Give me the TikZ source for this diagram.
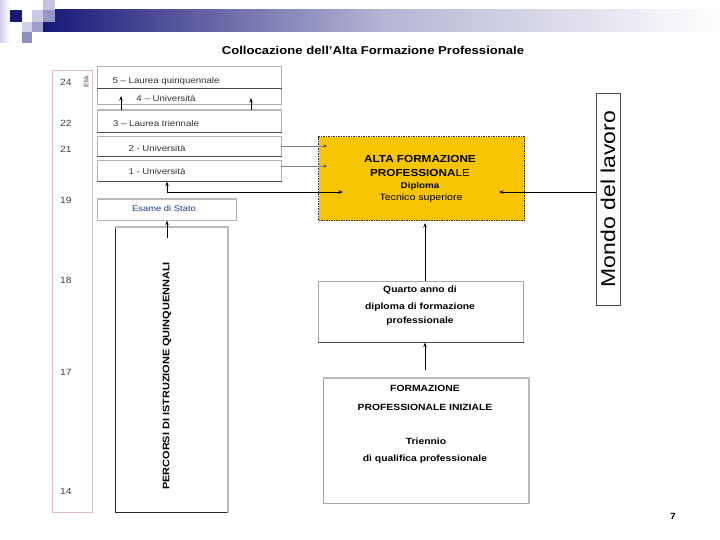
\documentclass[tikz,border=0pt]{standalone}
\usepackage{fontspec}
\setmainfont{Liberation Sans}[FakeStretch=1.15]
\usetikzlibrary{arrows.meta,calc}
\definecolor{navy}{RGB}{24,24,120}
\definecolor{midlav}{RGB}{180,180,212}
\definecolor{gold}{RGB}{246,196,0}
\definecolor{pinkb}{RGB}{232,184,204}
\definecolor{esblue}{RGB}{30,60,140}
\definecolor{sqa}{RGB}{200,200,232}
\definecolor{sqb}{RGB}{196,196,226}
\definecolor{sqc}{RGB}{150,150,200}
\definecolor{sqd}{RGB}{208,208,236}
\definecolor{sqe}{RGB}{160,160,208}
\definecolor{sqf}{RGB}{144,144,192}
\begin{document}
\begin{tikzpicture}[x=1pt,y=-1pt,
  sbox/.style={draw=gray!60, line width=0.7pt, inner sep=0pt, anchor=north west},
  shadowline/.style={draw=gray!60!black, line width=1.5pt},
  lightshadow/.style={draw=gray!55, line width=1.6pt},
  stxt/.style={font=\fontsize{8.4}{10}\selectfont, text=black!80, inner sep=0pt},
  btxt/.style={font=\fontsize{9}{10}\selectfont\bfseries, inner sep=0pt},
  age/.style={font=\fontsize{9}{10}\selectfont, text=black!75, inner sep=0pt},
  arr/.style={draw=black, line width=0.9pt, -{Stealth[length=4.5pt,width=3.5pt]}},
  garr/.style={draw=gray, line width=0.6pt, -{Stealth[length=3.5pt,width=3pt,color=black!70]}}
]
\useasboundingbox (0,0) rectangle (720,540);
\fill[white] (0,0) rectangle (720,540);

% header decoration
\shade[left color=sqd, right color=white] (0,0) rectangle (10,43);
\shade[left color=navy, right color=white, middle color=midlav] (43,10) rectangle (720,32);
\fill[navy] (10,10) rectangle (22,22);
\fill[sqa] (32,10) rectangle (43,22);
\fill[sqb] (43,0) rectangle (55,10);
\fill[sqc] (43,10) rectangle (55,22);
\fill[sqd] (22,22) rectangle (32,32);
\fill[sqe] (32,22) rectangle (43,32);
\fill[sqf] (22,32) rectangle (32,43);

% title
\node[font=\fontsize{11.4}{13}\selectfont\bfseries, inner sep=0pt] (title) at (373,50) {Collocazione dell'Alta Formazione Professionale};

% age column
\node[draw=pinkb, line width=0.8pt, minimum width=40pt, minimum height=442pt, inner sep=0pt, anchor=north west] (agecol) at (52,70) {};
\node[age] (a24) at (66,82) {24};
\node[age] (a22) at (66,123) {22};
\node[age] (a21) at (66,149) {21};
\node[age] (a19) at (66,200) {19};
\node[age] (a18) at (66,280) {18};
\node[age] (a17) at (66,372) {17};
\node[age] (a14) at (66,491) {14};
\node[font=\fontsize{6.5}{8}\selectfont, rotate=90, text=black!75, inner sep=0pt] (eta) at (86,82) {Età};

% university stack
\node[sbox, minimum width=184pt, minimum height=22pt] (b5) at (97,66) {};
\node[sbox, minimum width=184pt, minimum height=16pt] (b4) at (97,88) {};
\node[sbox, minimum width=184pt, minimum height=22pt] (b3) at (97,110) {};
\node[sbox, minimum width=184pt, minimum height=20pt] (b2) at (97,136) {};
\node[sbox, minimum width=184pt, minimum height=21pt] (b1) at (97,160) {};
\draw[shadowline] (b5.south west) -- (b5.south east);
\draw[lightshadow] (b3.north west) -- (b3.north east);
\draw[shadowline] (b3.south west) -- (b3.south east);
\draw[shadowline] (b2.south west) -- (b2.south east);
\draw[shadowline] (b1.south west) -- (b1.south east);
\node[stxt] (t5) at (166,81) {5 – Laurea quinquennale};
\node[stxt] (t4) at (166,98) {4 – Università};
\node[stxt] (t3) at (156,123) {3 – Laurea triennale};
\node[stxt] (t2) at (157,148) {2 - Università};
\node[stxt] (t1) at (157,171) {1 - Università};

% esame di stato
\node[sbox, minimum width=139pt, minimum height=21pt] (esame) at (97,199) {};
\draw[lightshadow] (esame.north west) -- (esame.north east);
\node[stxt, text=esblue, font=\fontsize{8.2}{10}\selectfont] (tes) at (164,209) {Esame di Stato};

% percorsi
\node[draw=black!85, line width=0.7pt, minimum width=112pt, minimum height=285pt, inner sep=0pt, anchor=north west] (perc) at (115,227) {};
\draw[lightshadow] (perc.north west) -- (perc.north east) -- (perc.south east);
\node[btxt, rotate=90, font=\fontsize{9.5}{11}\selectfont\bfseries] (tperc) at (167,376) {PERCORSI DI ISTRUZIONE QUINQUENNALI};

% alta formazione
\node[draw=black!80, fill=gold, line width=1.3pt, dash pattern=on 1.4pt off 1.1pt, minimum width=206pt, minimum height=84pt, inner sep=0pt, anchor=north west] (afp) at (318,136) {};
\node[btxt, font=\fontsize{10.2}{12}\selectfont\bfseries] (afp1) at (420,159) {ALTA FORMAZIONE};
\node[btxt, font=\fontsize{10.2}{12}\selectfont] (afp2) at (420,173) {\textbf{PROFESSIONA}LE};
\node[btxt, font=\fontsize{8.5}{10}\selectfont\bfseries] (afp3) at (420,186) {Diploma};
\node[stxt, text=black, font=\fontsize{9.2}{11}\selectfont] (afp4) at (421,198) {Tecnico superiore};

% mondo del lavoro
\node[draw=black!70, line width=0.7pt, minimum width=24pt, minimum height=212pt, inner sep=0pt, anchor=north west] (mondo) at (596,93) {};
\node[font=\fontsize{20}{22}\selectfont, rotate=90, inner sep=0pt] (tmondo) at (608,199) {Mondo del lavoro};

% quarto anno
\node[sbox, draw=gray!70, minimum width=205pt, minimum height=61pt] (quarto) at (318,281) {};
\draw[shadowline] (quarto.south west) -- (quarto.south east);
\node[btxt] (q1) at (420,290) {Quarto anno di};
\node[btxt] (q2) at (420,307) {diploma di formazione};
\node[btxt] (q3) at (420,321) {professionale};

% formazione professionale iniziale
\node[sbox, draw=gray!70, minimum width=205pt, minimum height=125pt] (fpi) at (323,378) {};
\draw[lightshadow] (fpi.north west) -- (fpi.north east) -- (fpi.south east);
\node[btxt] (f1) at (425,388) {FORMAZIONE};
\node[btxt] (f2) at (425,407) {PROFESSIONALE INIZIALE};
\node[btxt] (f3) at (426,441) {Triennio};
\node[btxt] (f4) at (425,459) {di qualifica professionale};

% page number
\node[font=\fontsize{9}{10}\selectfont\bfseries, inner sep=0pt] (pnum) at (673,516) {7};

% coordinates for arrow ends
\coordinate (u4a) at (121,96);
\coordinate (u4b) at (251,98);
\coordinate (g2s) at (281,146);
\coordinate (g2e) at (327,146);
\coordinate (g1s) at (281,166);
\coordinate (g1e) at (327,166);
\coordinate (elbow) at (167,192);
\coordinate (afpin) at (343,192);
\coordinate (afpright) at (499,192);
\coordinate (percin) at (167,238);
\coordinate (fpitop) at (425,370);
\coordinate (afpbot) at (425,223);

% arrows
\draw[arr] (b3.north -| u4a) -- (u4a);
\draw[arr] (b3.north -| u4b) -- (u4b);
\draw[garr] (g2s) -- (g2e);
\draw[garr] (g1s) -- (g1e);
\draw[arr, {Stealth[length=4.5pt,width=3.5pt]}-{Stealth[length=4.5pt,width=3.5pt]}] (b1.south -| elbow) -- (elbow) -- (afpin);
\draw[arr] (mondo.west |- afpright) -- (afpright);
\draw[arr] (percin) -- (esame.south -| percin);
\draw[arr] (quarto.north -| afpbot) -- (afpbot);
\draw[arr] (fpitop) -- (quarto.south -| fpitop);
\end{tikzpicture}
\end{document}
